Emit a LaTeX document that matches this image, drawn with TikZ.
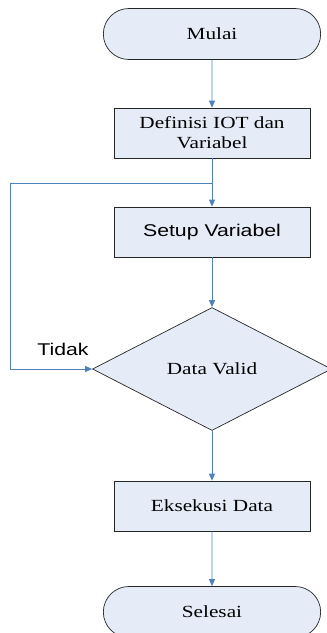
\documentclass[tikz,border=0pt]{standalone}
\usepackage{fontspec}
\usepackage{tikz}
\usepackage{xcolor}
\newfontfamily\boxfont{Liberation Serif}[FakeStretch=1.25]
\newfontfamily\labelfont{Liberation Sans}[FakeStretch=1.25]
\usetikzlibrary{
    arrows.meta,
    shapes.geometric,
    shapes.misc,
    calc,
    positioning
}
\definecolor{boxfill}{HTML}{E6ECF7}
\definecolor{flowblue}{HTML}{4F81BD}
\tikzset{
    box/.style={draw=black!85, line width=0.7pt, fill=boxfill, align=center,
        font=\boxfont\fontsize{17}{20}\selectfont},
    proc/.style={box, rectangle, minimum width=196pt, minimum height=50pt},
    term/.style={box, rounded rectangle, minimum width=224pt, minimum height=51pt},
    check/.style={box, diamond, inner sep=0pt, minimum width=239pt, minimum height=123pt},
    flow/.style={draw=flowblue, line width=0.9pt, -{Triangle[length=7pt,width=6pt]}}
}

\begin{document}
\begin{tikzpicture}[x=1pt, y=-1pt]
                                \useasboundingbox (0, 0) rectangle (327, 633);
                                \node[term] (mulai) at (212, 34) {Mulai};
                                \node[proc] (definisi) at (212, 133) {Definisi IOT dan\\Variabel};
                                \node[proc, font=\labelfont\fontsize{17}{20}\selectfont] (setup) at (212, 232) {Setup Variabel};
                                \node[check] (valid) at (212, 369) {Data Valid};
                                \node[proc] (eksekusi) at (212, 506) {Eksekusi Data};
                                \node[term] (selesai) at (212, 612) {Selesai};
                                \node[font=\labelfont\fontsize{17}{20}\selectfont] (tidak) at (63, 349) {Tidak};
                                \coordinate (junc) at (212, 183);
                                \coordinate (loop) at (10, 183);
                                \draw[flow] (mulai) -- (definisi);
                                \draw[flow] (definisi) -- (setup);
                                \draw[flow] (setup) -- (valid);
                                \draw[flow] (valid) -- (eksekusi);
                                \draw[flow] (eksekusi) -- (selesai);
                                \draw[flow] (junc) -- (loop) |- (valid.west);
                            \end{tikzpicture}
\end{document}
